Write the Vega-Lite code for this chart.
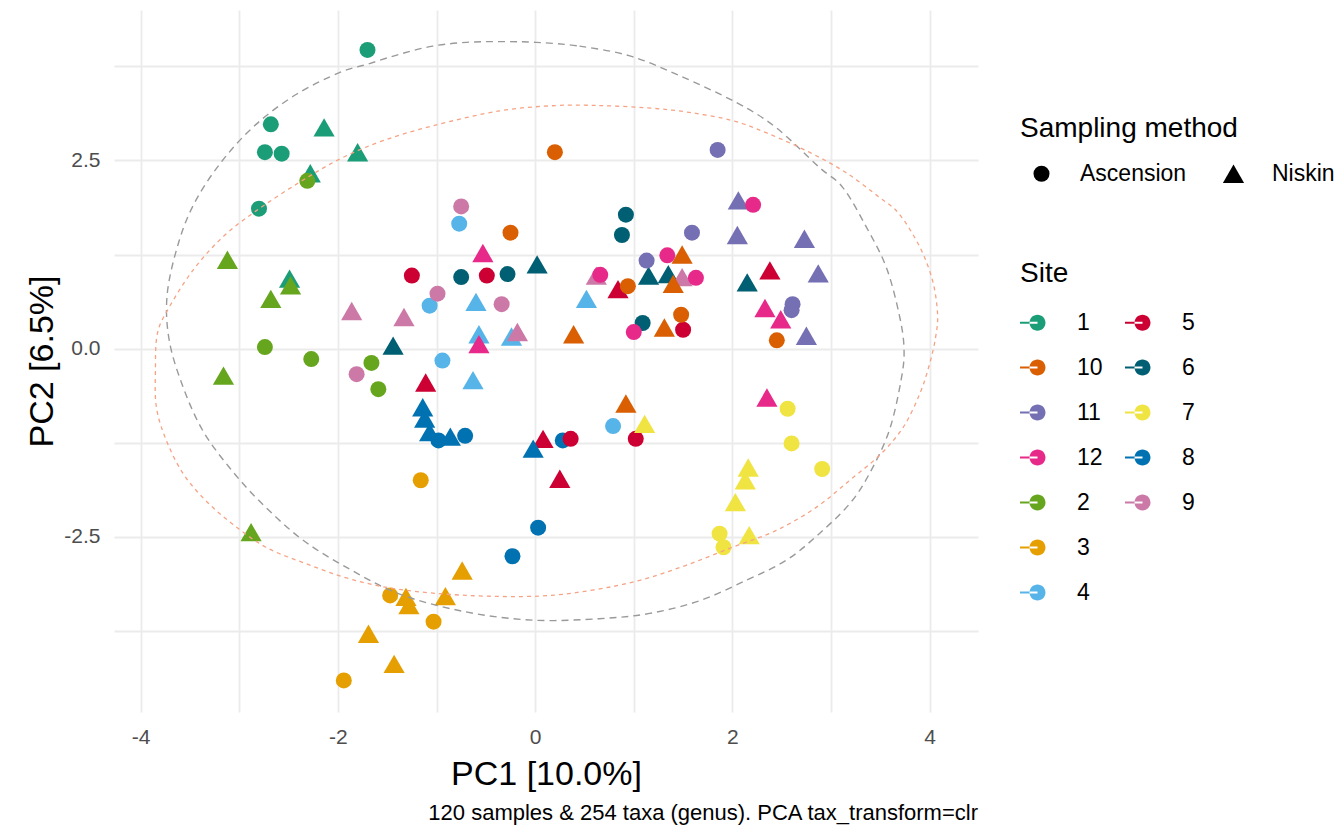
{
  "$schema": "https://vega.github.io/schema/vega-lite/v6.json",
  "width": 864,
  "height": 702,
  "autosize": {"type": "none"},
  "padding": {"left": 114, "top": 10, "right": 364, "bottom": 116},
  "background": "white",
  "title": {"text": "120 samples & 254 taxa (genus). PCA tax_transform=clr", "orient": "bottom", "anchor": "end", "frame": "group", "fontSize": 22, "fontWeight": "normal", "color": "black", "font": "Liberation Sans", "offset": 12},
  "config": {
    "font": "Liberation Sans",
    "view": {"stroke": null},
    "axis": {"ticks": false, "domain": false, "gridColor": "#EBEBEB", "gridWidth": 1.8, "labelFontSize": 21, "labelColor": "#4D4D4D", "labelFont": "Liberation Sans", "titleFont": "Liberation Sans", "titleFontSize": 34, "titleFontWeight": "normal", "titleColor": "black"},
    "legend": {"padding": 0, "titleFont": "Liberation Sans", "labelFont": "Liberation Sans", "titleFontSize": 28, "titleFontWeight": "normal", "titleColor": "black", "labelFontSize": 23, "labelColor": "black", "titleLimit": 600, "labelLimit": 300}
  },
  "datasets": {
    "pts": [
      {"x": -1.70, "y": 3.97, "site": "1", "method": "Ascension"},
      {"x": -2.68, "y": 2.98, "site": "1", "method": "Ascension"},
      {"x": -2.74, "y": 2.61, "site": "1", "method": "Ascension"},
      {"x": -2.57, "y": 2.59, "site": "1", "method": "Ascension"},
      {"x": -2.80, "y": 1.86, "site": "1", "method": "Ascension"},
      {"x": -2.14, "y": 2.94, "site": "1", "method": "Niskin"},
      {"x": -1.80, "y": 2.61, "site": "1", "method": "Niskin"},
      {"x": -2.28, "y": 2.33, "site": "1", "method": "Niskin"},
      {"x": -2.49, "y": 0.93, "site": "1", "method": "Niskin"},
      {"x": -2.31, "y": 2.23, "site": "2", "method": "Ascension"},
      {"x": -2.74, "y": 0.02, "site": "2", "method": "Ascension"},
      {"x": -2.27, "y": -0.14, "site": "2", "method": "Ascension"},
      {"x": -1.66, "y": -0.19, "site": "2", "method": "Ascension"},
      {"x": -1.59, "y": -0.54, "site": "2", "method": "Ascension"},
      {"x": -3.12, "y": 1.18, "site": "2", "method": "Niskin"},
      {"x": -2.48, "y": 0.84, "site": "2", "method": "Niskin"},
      {"x": -2.68, "y": 0.66, "site": "2", "method": "Niskin"},
      {"x": -3.16, "y": -0.36, "site": "2", "method": "Niskin"},
      {"x": -2.88, "y": -2.44, "site": "2", "method": "Niskin"},
      {"x": -1.16, "y": -1.75, "site": "3", "method": "Ascension"},
      {"x": -1.47, "y": -3.28, "site": "3", "method": "Ascension"},
      {"x": -1.03, "y": -3.63, "site": "3", "method": "Ascension"},
      {"x": -1.94, "y": -4.41, "site": "3", "method": "Ascension"},
      {"x": -0.74, "y": -2.95, "site": "3", "method": "Niskin"},
      {"x": -1.31, "y": -3.30, "site": "3", "method": "Niskin"},
      {"x": -1.28, "y": -3.41, "site": "3", "method": "Niskin"},
      {"x": -0.91, "y": -3.29, "site": "3", "method": "Niskin"},
      {"x": -1.69, "y": -3.79, "site": "3", "method": "Niskin"},
      {"x": -1.43, "y": -4.19, "site": "3", "method": "Niskin"},
      {"x": -0.77, "y": 1.66, "site": "4", "method": "Ascension"},
      {"x": -1.07, "y": 0.57, "site": "4", "method": "Ascension"},
      {"x": -0.94, "y": -0.16, "site": "4", "method": "Ascension"},
      {"x": 0.79, "y": -1.03, "site": "4", "method": "Ascension"},
      {"x": -0.60, "y": 0.62, "site": "4", "method": "Niskin"},
      {"x": -0.57, "y": 0.19, "site": "4", "method": "Niskin"},
      {"x": -0.24, "y": 0.16, "site": "4", "method": "Niskin"},
      {"x": -0.63, "y": -0.42, "site": "4", "method": "Niskin"},
      {"x": 0.52, "y": 0.66, "site": "4", "method": "Niskin"},
      {"x": -1.25, "y": 0.97, "site": "5", "method": "Ascension"},
      {"x": -0.49, "y": 0.97, "site": "5", "method": "Ascension"},
      {"x": 1.50, "y": 0.25, "site": "5", "method": "Ascension"},
      {"x": 1.02, "y": -1.20, "site": "5", "method": "Ascension"},
      {"x": -1.11, "y": -0.45, "site": "5", "method": "Niskin"},
      {"x": 0.08, "y": -1.20, "site": "5", "method": "Niskin"},
      {"x": 0.84, "y": 0.79, "site": "5", "method": "Niskin"},
      {"x": 2.38, "y": 1.04, "site": "5", "method": "Niskin"},
      {"x": 0.25, "y": -1.73, "site": "5", "method": "Niskin"},
      {"x": -0.75, "y": 0.95, "site": "6", "method": "Ascension"},
      {"x": -0.28, "y": 0.99, "site": "6", "method": "Ascension"},
      {"x": 0.92, "y": 1.78, "site": "6", "method": "Ascension"},
      {"x": 0.88, "y": 1.51, "site": "6", "method": "Ascension"},
      {"x": 1.09, "y": 0.34, "site": "6", "method": "Ascension"},
      {"x": 0.02, "y": 1.12, "site": "6", "method": "Niskin"},
      {"x": -1.44, "y": 0.04, "site": "6", "method": "Niskin"},
      {"x": 1.15, "y": 0.97, "site": "6", "method": "Niskin"},
      {"x": 1.35, "y": 0.99, "site": "6", "method": "Niskin"},
      {"x": 2.15, "y": 0.88, "site": "6", "method": "Niskin"},
      {"x": 2.56, "y": -0.80, "site": "7", "method": "Ascension"},
      {"x": 2.60, "y": -1.26, "site": "7", "method": "Ascension"},
      {"x": 2.91, "y": -1.60, "site": "7", "method": "Ascension"},
      {"x": 1.87, "y": -2.46, "site": "7", "method": "Ascension"},
      {"x": 1.91, "y": -2.64, "site": "7", "method": "Ascension"},
      {"x": 2.16, "y": -1.58, "site": "7", "method": "Niskin"},
      {"x": 2.13, "y": -1.75, "site": "7", "method": "Niskin"},
      {"x": 2.03, "y": -2.04, "site": "7", "method": "Niskin"},
      {"x": 2.17, "y": -2.48, "site": "7", "method": "Niskin"},
      {"x": 1.11, "y": -1.00, "site": "7", "method": "Niskin"},
      {"x": -0.98, "y": -1.22, "site": "8", "method": "Ascension"},
      {"x": -0.71, "y": -1.16, "site": "8", "method": "Ascension"},
      {"x": 0.28, "y": -1.22, "site": "8", "method": "Ascension"},
      {"x": 0.03, "y": -2.38, "site": "8", "method": "Ascension"},
      {"x": -0.23, "y": -2.76, "site": "8", "method": "Ascension"},
      {"x": -1.14, "y": -0.78, "site": "8", "method": "Niskin"},
      {"x": -1.12, "y": -0.93, "site": "8", "method": "Niskin"},
      {"x": -1.07, "y": -1.11, "site": "8", "method": "Niskin"},
      {"x": -0.86, "y": -1.17, "site": "8", "method": "Niskin"},
      {"x": -0.02, "y": -1.33, "site": "8", "method": "Niskin"},
      {"x": 0.36, "y": -1.20, "site": "5", "method": "Ascension"},
      {"x": -0.75, "y": 1.89, "site": "9", "method": "Ascension"},
      {"x": -0.99, "y": 0.73, "site": "9", "method": "Ascension"},
      {"x": -0.34, "y": 0.59, "site": "9", "method": "Ascension"},
      {"x": -1.81, "y": -0.34, "site": "9", "method": "Ascension"},
      {"x": -1.86, "y": 0.50, "site": "9", "method": "Niskin"},
      {"x": -1.33, "y": 0.42, "site": "9", "method": "Niskin"},
      {"x": -0.18, "y": 0.22, "site": "9", "method": "Niskin"},
      {"x": 0.62, "y": 0.97, "site": "9", "method": "Niskin"},
      {"x": 1.49, "y": 0.95, "site": "9", "method": "Niskin"},
      {"x": 0.20, "y": 2.61, "site": "10", "method": "Ascension"},
      {"x": -0.25, "y": 1.54, "site": "10", "method": "Ascension"},
      {"x": 0.94, "y": 0.83, "site": "10", "method": "Ascension"},
      {"x": 2.45, "y": 0.11, "site": "10", "method": "Ascension"},
      {"x": 1.48, "y": 0.45, "site": "10", "method": "Ascension"},
      {"x": 1.49, "y": 1.25, "site": "10", "method": "Niskin"},
      {"x": 1.40, "y": 0.86, "site": "10", "method": "Niskin"},
      {"x": 0.39, "y": 0.19, "site": "10", "method": "Niskin"},
      {"x": 1.31, "y": 0.28, "site": "10", "method": "Niskin"},
      {"x": 0.92, "y": -0.73, "site": "10", "method": "Niskin"},
      {"x": 1.85, "y": 2.64, "site": "11", "method": "Ascension"},
      {"x": 1.59, "y": 1.54, "site": "11", "method": "Ascension"},
      {"x": 1.13, "y": 1.17, "site": "11", "method": "Ascension"},
      {"x": 2.61, "y": 0.59, "site": "11", "method": "Ascension"},
      {"x": 2.60, "y": 0.51, "site": "11", "method": "Ascension"},
      {"x": 2.06, "y": 1.97, "site": "11", "method": "Niskin"},
      {"x": 2.05, "y": 1.51, "site": "11", "method": "Niskin"},
      {"x": 2.73, "y": 1.46, "site": "11", "method": "Niskin"},
      {"x": 2.87, "y": 1.00, "site": "11", "method": "Niskin"},
      {"x": 2.75, "y": 0.17, "site": "11", "method": "Niskin"},
      {"x": 2.21, "y": 1.91, "site": "12", "method": "Ascension"},
      {"x": 1.34, "y": 1.24, "site": "12", "method": "Ascension"},
      {"x": 0.66, "y": 0.98, "site": "12", "method": "Ascension"},
      {"x": 1.63, "y": 0.94, "site": "12", "method": "Ascension"},
      {"x": 1.00, "y": 0.22, "site": "12", "method": "Ascension"},
      {"x": -0.53, "y": 1.27, "site": "12", "method": "Niskin"},
      {"x": -0.57, "y": 0.06, "site": "12", "method": "Niskin"},
      {"x": 2.33, "y": 0.54, "site": "12", "method": "Niskin"},
      {"x": 2.49, "y": 0.39, "site": "12", "method": "Niskin"},
      {"x": 2.35, "y": -0.65, "site": "12", "method": "Niskin"}
    ],
    "grey": [
      {"i": 1, "x": 0.01, "y": 4.07}, {"i": 2, "x": 0.45, "y": 4.02}, {"i": 3, "x": 0.96, "y": 3.89}, {"i": 4, "x": 1.46, "y": 3.63},
      {"i": 5, "x": 2.04, "y": 3.27}, {"i": 6, "x": 2.44, "y": 2.94}, {"i": 7, "x": 2.88, "y": 2.41}, {"i": 8, "x": 3.12, "y": 2.14},
      {"i": 9, "x": 3.36, "y": 1.61}, {"i": 10, "x": 3.56, "y": 1.08}, {"i": 11, "x": 3.69, "y": 0.46}, {"i": 12, "x": 3.74, "y": 0.00},
      {"i": 13, "x": 3.71, "y": -0.42}, {"i": 14, "x": 3.59, "y": -1.09}, {"i": 15, "x": 3.39, "y": -1.66}, {"i": 16, "x": 3.19, "y": -2.06},
      {"i": 17, "x": 2.88, "y": -2.46}, {"i": 18, "x": 2.55, "y": -2.81}, {"i": 19, "x": 2.14, "y": -3.08}, {"i": 20, "x": 1.67, "y": -3.35},
      {"i": 21, "x": 1.16, "y": -3.52}, {"i": 22, "x": 0.65, "y": -3.59}, {"i": 23, "x": -0.02, "y": -3.61}, {"i": 24, "x": -0.70, "y": -3.50},
      {"i": 25, "x": -1.38, "y": -3.26}, {"i": 26, "x": -1.95, "y": -2.88}, {"i": 27, "x": -2.39, "y": -2.51}, {"i": 28, "x": -2.80, "y": -2.02},
      {"i": 29, "x": -3.10, "y": -1.58}, {"i": 30, "x": -3.37, "y": -1.09}, {"i": 31, "x": -3.57, "y": -0.51}, {"i": 32, "x": -3.71, "y": 0.11},
      {"i": 33, "x": -3.73, "y": 0.73}, {"i": 34, "x": -3.61, "y": 1.43}, {"i": 35, "x": -3.44, "y": 1.97}, {"i": 36, "x": -3.17, "y": 2.50},
      {"i": 37, "x": -2.83, "y": 2.98}, {"i": 38, "x": -2.42, "y": 3.38}, {"i": 39, "x": -1.98, "y": 3.67}, {"i": 40, "x": -1.70, "y": 3.78},
      {"i": 41, "x": -1.38, "y": 3.91}, {"i": 42, "x": -1.04, "y": 4.02}, {"i": 43, "x": -0.70, "y": 4.07}, {"i": 44, "x": -0.36, "y": 4.08}
    ],
    "salmon": [
      {"i": 1, "x": 0.21, "y": 3.23}, {"i": 2, "x": 0.65, "y": 3.23}, {"i": 3, "x": 1.13, "y": 3.20}, {"i": 4, "x": 1.56, "y": 3.14},
      {"i": 5, "x": 2.00, "y": 3.03}, {"i": 6, "x": 2.34, "y": 2.87}, {"i": 7, "x": 2.78, "y": 2.61}, {"i": 8, "x": 3.15, "y": 2.34},
      {"i": 9, "x": 3.49, "y": 2.01}, {"i": 10, "x": 3.69, "y": 1.79}, {"i": 11, "x": 3.90, "y": 1.35}, {"i": 12, "x": 4.03, "y": 0.90},
      {"i": 13, "x": 4.08, "y": 0.46}, {"i": 14, "x": 4.06, "y": 0.15}, {"i": 15, "x": 4.00, "y": -0.20}, {"i": 16, "x": 3.90, "y": -0.60},
      {"i": 17, "x": 3.73, "y": -1.05}, {"i": 18, "x": 3.49, "y": -1.42}, {"i": 19, "x": 3.19, "y": -1.75}, {"i": 20, "x": 2.85, "y": -2.11},
      {"i": 21, "x": 2.44, "y": -2.42}, {"i": 22, "x": 2.00, "y": -2.64}, {"i": 23, "x": 1.53, "y": -2.88}, {"i": 24, "x": 1.06, "y": -3.08},
      {"i": 25, "x": 0.58, "y": -3.21}, {"i": 26, "x": 0.04, "y": -3.29}, {"i": 27, "x": -0.70, "y": -3.28}, {"i": 28, "x": -1.38, "y": -3.20},
      {"i": 29, "x": -1.88, "y": -3.06}, {"i": 30, "x": -2.32, "y": -2.86}, {"i": 31, "x": -2.73, "y": -2.64}, {"i": 32, "x": -3.07, "y": -2.33},
      {"i": 33, "x": -3.34, "y": -2.02}, {"i": 34, "x": -3.57, "y": -1.66}, {"i": 35, "x": -3.74, "y": -1.22}, {"i": 36, "x": -3.84, "y": -0.78},
      {"i": 37, "x": -3.85, "y": -0.30}, {"i": 38, "x": -3.83, "y": 0.20}, {"i": 39, "x": -3.71, "y": 0.55}, {"i": 40, "x": -3.47, "y": 1.04},
      {"i": 41, "x": -3.17, "y": 1.48}, {"i": 42, "x": -2.83, "y": 1.83}, {"i": 43, "x": -2.39, "y": 2.21}, {"i": 44, "x": -1.98, "y": 2.52},
      {"i": 45, "x": -1.55, "y": 2.76}, {"i": 46, "x": -1.04, "y": 2.96}, {"i": 47, "x": -0.36, "y": 3.16}
    ]
  },
  "layer": [
    {
      "data": {"name": "pts"},
      "mark": {"type": "point", "filled": true, "opacity": 1, "color": "black", "strokeWidth": 0},
      "encoding": {
        "x": {"field": "x", "type": "quantitative", "scale": {"domain": [-4.27, 4.49], "nice": false, "zero": false},
          "axis": {"title": "PC1 [10.0%]", "values": [-4, -3, -2, -1, 0, 1, 2, 3, 4], "labelExpr": "datum.value % 2 == 0 ? toString(datum.value) : ''", "labelPadding": 14, "titlePadding": 10}},
        "y": {"field": "y", "type": "quantitative", "scale": {"domain": [-4.83, 4.50], "nice": false, "zero": false},
          "axis": {"title": "PC2 [6.5%]", "values": [-3.75, -2.5, -1.25, 0, 1.25, 2.5, 3.75], "labelExpr": "datum.value == 0 ? '0.0' : datum.value == 2.5 ? '2.5' : datum.value == -2.5 ? '-2.5' : ''", "labelPadding": 14, "titlePadding": 4}},
        "color": {"field": "site", "type": "nominal",
          "scale": {"domain": ["1", "10", "11", "12", "2", "3", "4", "5", "6", "7", "8", "9", " ", "  "],
                    "range": ["#1B9E77", "#D95F02", "#7570B3", "#E7298A", "#66A61E", "#E69F00", "#56B4E9", "#CC0033", "#005F73", "#F0E442", "#0072B2", "#CC79A7", "transparent", "transparent"]},
          "legend": {"title": "Site", "orient": "none", "legendX": 906, "legendY": 250, "columns": 2, "symbolType": "M-1,-0.06L0,-0.06L0,0.06L-1,0.06Z M-0.457,0A0.457,0.457 0 1,0 0.457,0A0.457,0.457 0 1,0 -0.457,0Z", "symbolSize": 1225, "labelOffset": 22, "columnPadding": 22, "rowPadding": 15, "titlePadding": 17, "symbolStrokeWidth": 0}},
        "shape": {"field": "method", "type": "nominal", "scale": {"domain": ["Ascension", "Niskin"], "range": ["circle", "triangle-up"]},
          "legend": {"title": "Sampling method", "orient": "none", "legendX": 906, "legendY": 105, "direction": "horizontal", "symbolFillColor": "black", "symbolStrokeWidth": 0, "symbolOffset": 10, "labelOffset": 27, "columnPadding": 25, "titlePadding": 19}},
        "size": {"field": "method", "type": "nominal", "scale": {"domain": ["Ascension", "Niskin"], "range": [256, 450]},
          "legend": {"title": "Sampling method", "orient": "none", "legendX": 906, "legendY": 105, "direction": "horizontal", "symbolFillColor": "black", "symbolStrokeWidth": 0, "symbolOffset": 10, "labelOffset": 27, "columnPadding": 25, "titlePadding": 19}}
      }
    },
    {
      "data": {"name": "grey"},
      "mark": {"type": "line", "stroke": "#9A9A9A", "strokeWidth": 1.4, "strokeDash": [7, 5], "interpolate": "cardinal-closed"},
      "encoding": {"x": {"field": "x", "type": "quantitative"}, "y": {"field": "y", "type": "quantitative"}, "order": {"field": "i", "type": "quantitative"}}
    },
    {
      "data": {"name": "salmon"},
      "mark": {"type": "line", "stroke": "#F6A385", "strokeWidth": 1.3, "strokeDash": [4, 4], "interpolate": "cardinal-closed"},
      "encoding": {"x": {"field": "x", "type": "quantitative"}, "y": {"field": "y", "type": "quantitative"}, "order": {"field": "i", "type": "quantitative"}}
    }
  ]
}
